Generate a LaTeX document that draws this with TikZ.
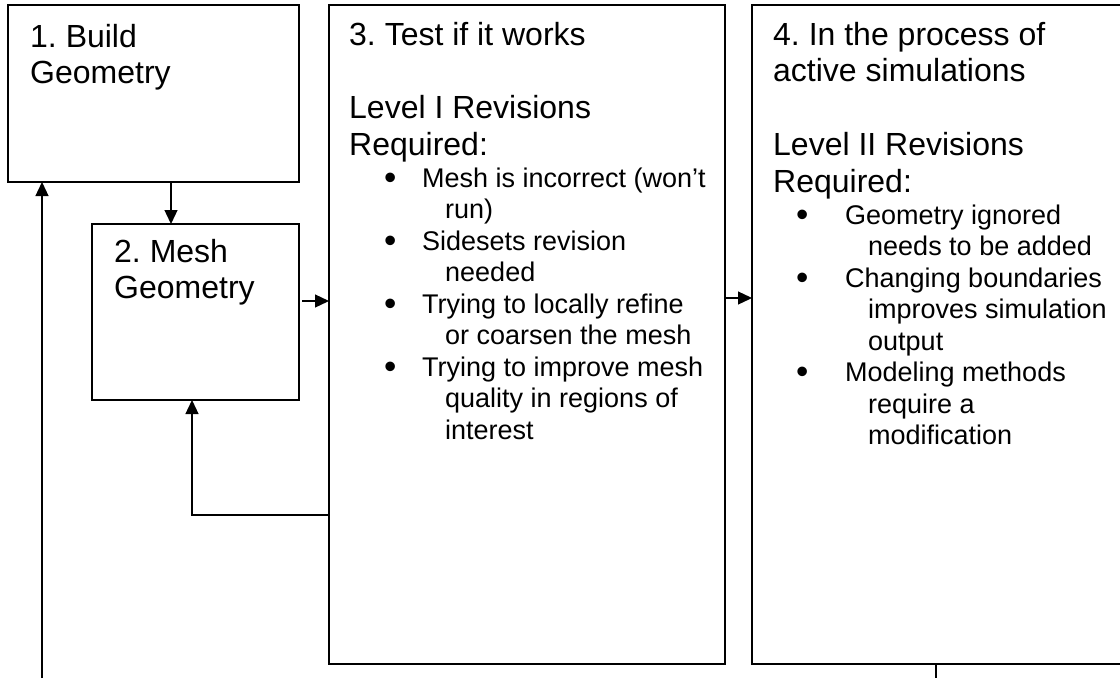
\documentclass[tikz,border=0pt]{standalone}
\usepackage{fontspec}
\usepackage{graphicx}
\setmainfont{Liberation Sans}
\usetikzlibrary{arrows.meta}
\frenchspacing
\newcommand\mybullet{\makebox[0pt]{\raisebox{-0.09em}{\scalebox{1.3}{\textbullet}}}}
\newcommand\firstln[3]{\hspace*{#1}\mybullet\hspace*{#2}#3}
\newcommand\contln[2]{\hspace*{#1}#2}
\begin{document}
\begin{tikzpicture}[x=1pt,y=-1pt,
  box/.style={draw, line width=1.3pt, inner sep=0pt, outer sep=0pt, anchor=north west},
  arr/.style={line width=1.3pt, -{Triangle[length=14pt,width=13pt]}},
  conn/.style={line width=1.3pt},
  ttl/.style={anchor=base west, inner sep=0pt, font=\fontsize{32}{36.8}\selectfont\frenchspacing},
  blist/.style={anchor=base west, inner sep=0pt, font=\fontsize{27}{31.5}\selectfont\frenchspacing}]
\useasboundingbox (0,0) rectangle (1120,678);
\fill[white] (0,0) rectangle (1120,678);
% boxes
\node[box, minimum width=291, minimum height=177] (b1) at (8,5) {};
\node[box, minimum width=207, minimum height=176] (b2) at (92,224) {};
\node[box, minimum width=396, minimum height=659] (b3) at (329,5) {};
\node[box, minimum width=380, minimum height=659] (b4) at (752,5) {};
% texts
\node[ttl] (t1) at (30,47) {\parbox[t]{260pt}{1. Build\\Geometry}};
\node[ttl] (t2) at (114,262) {\parbox[t]{180pt}{2. Mesh\\Geometry}};
\node[ttl] (t3) at (349,45) {\parbox[t]{370pt}{3. Test if it works\\[36.8pt]Level I Revisions\\Required:}};
\node[ttl] (t4) at (773,45) {\parbox[t]{345pt}{4. In the process of\\active simulations\\[36.8pt]Level II Revisions\\Required:}};
\node[blist] (l3) at (349,187) {\parbox[t]{375pt}{\raggedright
\firstln{41pt}{32pt}{Mesh is incorrect (won’t}\\
\contln{96pt}{run)}\\
\firstln{41pt}{32pt}{Sidesets revision}\\
\contln{96pt}{needed}\\
\firstln{41pt}{32pt}{Trying to locally refine}\\
\contln{96pt}{or coarsen the mesh}\\
\firstln{41pt}{32pt}{Trying to improve mesh}\\
\contln{96pt}{quality in regions of}\\
\contln{96pt}{interest}}};
\node[blist] (l4) at (773,224) {\parbox[t]{345pt}{\raggedright
\firstln{29pt}{43pt}{Geometry ignored}\\
\contln{95pt}{needs to be added}\\
\firstln{29pt}{43pt}{Changing boundaries}\\
\contln{95pt}{improves simulation}\\
\contln{95pt}{output}\\
\firstln{29pt}{43pt}{Modeling methods}\\
\contln{95pt}{require a}\\
\contln{95pt}{modification}}};
% helper coordinates
\coordinate (c1) at (171,0);
\coordinate (y23) at (302,301);
\coordinate (y34) at (0,298);
\coordinate (fb) at (192,515);
\coordinate (lb) at (42,678);
\coordinate (rb) at (936,678);
% connectors
\draw[arr] (b1.south -| c1) -- (b2.north -| c1);
\draw[arr] (y23) -- (b3.west |- y23);
\draw[arr] (b3.east |- y34) -- (b4.west |- y34);
\draw[arr] (b3.west |- fb) -| (b2.south -| fb);
\draw[arr] (lb) -- (lb |- b1.south);
\draw[conn] (rb |- b4.south) -- (rb);
\end{tikzpicture}
\end{document}
